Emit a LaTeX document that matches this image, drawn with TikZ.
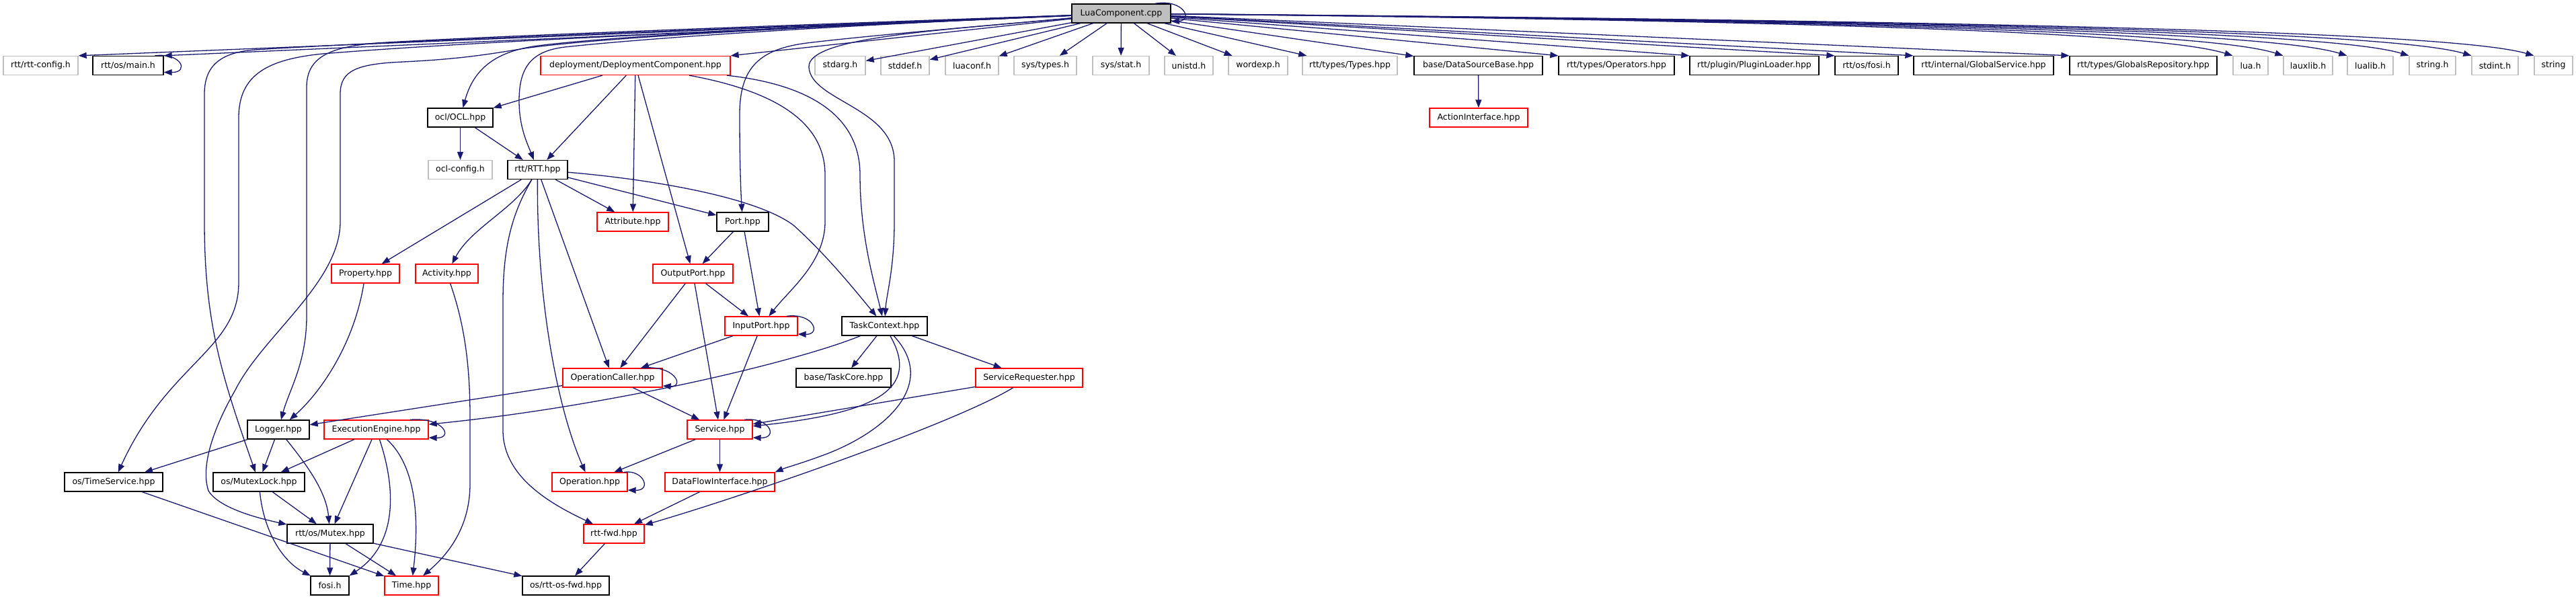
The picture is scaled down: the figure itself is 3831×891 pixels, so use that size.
\documentclass[tikz,border=0pt]{standalone}
\usepackage{fontspec}
\setmainfont{DejaVu Sans}
\usetikzlibrary{arrows.meta}
\definecolor{edgec}{HTML}{191970}
\definecolor{greybd}{HTML}{BFBFBF}
\definecolor{rootfill}{HTML}{BFBFBF}
\definecolor{redbd}{HTML}{FF0000}
\begin{document}
\begin{tikzpicture}[x=1pt,y=-1pt,
  nd/.style={draw, fill=white, line width=1.3pt, minimum height=28pt, inner sep=0pt,
    font=\fontsize{12.5}{14}\selectfont},
  gr/.style={nd, draw=greybd},
  bk/.style={nd, draw=black},
  rd/.style={nd, draw=redbd},
  root/.style={nd, draw=black, fill=rootfill},
  e/.style={draw=edgec, line width=1.3pt, -{Triangle[length=12pt,width=9pt]}}]
\useasboundingbox (0,0) rectangle (3831,891);
% row 0
\node[root,minimum width=147pt] (lua) at (1667.5,20) {LuaComponent.cpp};
% row 1
\node[gr,minimum width=111pt] (rttconfig) at (60.5,97.5) {rtt/rtt-config.h};
\node[bk,minimum width=105pt] (main) at (190.5,97.5) {rtt/os/main.h};
\node[rd,minimum width=282pt] (dc) at (945,97.5) {deployment/DeploymentComponent.hpp};
\node[gr,minimum width=75pt] (stdarg) at (1249.5,97.5) {stdarg.h};
\node[gr,minimum width=72pt] (stddef) at (1346,97.5) {stddef.h};
\node[gr,minimum width=79pt] (luaconf) at (1445.5,97.5) {luaconf.h};
\node[gr,minimum width=93pt] (systypes) at (1554.5,97.5) {sys/types.h};
\node[gr,minimum width=84pt] (sysstat) at (1667,97.5) {sys/stat.h};
\node[gr,minimum width=72pt] (unistd) at (1768,97.5) {unistd.h};
\node[gr,minimum width=88pt] (wordexp) at (1871,97.5) {wordexp.h};
\node[gr,minimum width=141pt] (types) at (2007.5,97.5) {rtt/types/Types.hpp};
\node[bk,minimum width=191pt] (dsb) at (2198.5,97.5) {base/DataSourceBase.hpp};
\node[bk,minimum width=172pt] (operators) at (2404,97.5) {rtt/types/Operators.hpp};
\node[bk,minimum width=192pt] (plugin) at (2609,97.5) {rtt/plugin/PluginLoader.hpp};
\node[bk,minimum width=94pt] (osfosi) at (2776,97.5) {rtt/os/fosi.h};
\node[bk,minimum width=208pt] (gservice) at (2950,97.5) {rtt/internal/GlobalService.hpp};
\node[bk,minimum width=219pt] (grepo) at (3187.5,97.5) {rtt/types/GlobalsRepository.hpp};
\node[gr,minimum width=52pt] (luah) at (3347,97.5) {lua.h};
\node[gr,minimum width=73pt] (lauxlib) at (3432.5,97.5) {lauxlib.h};
\node[gr,minimum width=68pt] (lualib) at (3525,97.5) {lualib.h};
\node[gr,minimum width=69pt] (stringh) at (3617.5,97.5) {string.h};
\node[gr,minimum width=69pt] (stdint) at (3710.5,97.5) {stdint.h};
\node[gr,minimum width=57pt] (string) at (3797.5,97.5) {string};
% row 2
\node[bk,minimum width=97pt] (ocl) at (684.5,175) {ocl/OCL.hpp};
\node[rd,minimum width=146pt] (action) at (2199,175) {ActionInterface.hpp};
% row 3
\node[gr,minimum width=95pt] (oclconfig) at (684.5,252.5) {ocl-config.h};
\node[bk,minimum width=89pt] (rtt) at (799.5,252.5) {rtt/RTT.hpp};
% row 4
\node[rd,minimum width=106pt] (attribute) at (941,330) {Attribute.hpp};
\node[bk,minimum width=77pt] (port) at (1104.5,330) {Port.hpp};
% row 5
\node[rd,minimum width=101pt] (property) at (543.5,407) {Property.hpp};
\node[rd,minimum width=93pt] (activity) at (664.5,407) {Activity.hpp};
\node[rd,minimum width=119pt] (outputport) at (1030.5,407) {OutputPort.hpp};
% row 6
\node[rd,minimum width=108pt] (inputport) at (1132,485) {InputPort.hpp};
\node[bk,minimum width=127pt] (taskcontext) at (1315.5,485) {TaskContext.hpp};
% row 7
\node[rd,minimum width=148pt] (opcaller) at (911,562) {OperationCaller.hpp};
\node[bk,minimum width=141pt] (taskcore) at (1254.5,562) {base/TaskCore.hpp};
\node[rd,minimum width=159pt] (servreq) at (1530.5,562) {ServiceRequester.hpp};
% row 8
\node[bk,minimum width=92pt] (logger) at (414,639) {Logger.hpp};
\node[rd,minimum width=155pt] (ee) at (559.5,639) {ExecutionEngine.hpp};
\node[rd,minimum width=97pt] (service) at (1070.5,639) {Service.hpp};
% row 9
\node[bk,minimum width=146pt] (timeservice) at (169,717) {os/TimeService.hpp};
\node[bk,minimum width=136pt] (mutexlock) at (385,717) {os/MutexLock.hpp};
\node[rd,minimum width=112pt] (operation) at (877,717) {Operation.hpp};
\node[rd,minimum width=163pt] (dfi) at (1070.5,717) {DataFlowInterface.hpp};
% row 10
\node[bk,minimum width=128pt] (mutex) at (491,794) {rtt/os/Mutex.hpp};
\node[rd,minimum width=90pt] (rttfwd) at (913,794) {rtt-fwd.hpp};
% row 11
\node[bk,minimum width=57pt] (fosi) at (490.5,871) {fosi.h};
\node[rd,minimum width=80pt] (time) at (612,871) {Time.hpp};
\node[bk,minimum width=129pt] (osfwd) at (841.5,871) {os/rtt-os-fwd.hpp};

% ---- edges from LuaComponent.cpp
\draw[e] ([xshift=50pt]lua.north) .. controls (1760,-2) and (1775,30) .. ([yshift=-12pt]lua.east);
\draw[e] (lua) -- (rttconfig.north east);
\draw[e] (lua) -- (main.north east);
\draw[e] (lua) -- (dc.north east);
\draw[e] (lua) -- (stdarg);
\draw[e] (lua) -- (stddef);
\draw[e] (lua) -- (luaconf);
\draw[e] (lua) -- (systypes);
\draw[e] (lua) -- (sysstat);
\draw[e] (lua) -- (unistd);
\draw[e] (lua) -- (wordexp);
\draw[e] (lua) -- (types);
\draw[e] (lua) -- (dsb);
\draw[e] (lua) -- (operators.north west);
\draw[e] (lua) -- (plugin.north west);
\draw[e] (lua) -- (osfosi.north west);
\draw[e] (lua) -- (gservice.north west);
\draw[e] (lua) -- (grepo.north west);
\draw[e] (lua) .. controls (2600,30) and (3200,45) .. (luah.north west);
\draw[e] (lua) .. controls (2650,30) and (3280,45) .. (lauxlib.north west);
\draw[e] (lua) .. controls (2700,30) and (3370,45) .. (lualib.north west);
\draw[e] (lua) .. controls (2750,30) and (3460,45) .. (stringh.north west);
\draw[e] (lua) .. controls (2800,30) and (3550,45) .. (stdint.north west);
\draw[e] (lua) .. controls (2850,30) and (3640,45) .. (string.north west);
% long curves down the left
\draw[e] (lua) .. controls (1100,42) and (600,60) .. (380,74) .. controls (325,78) and (304,100) .. (304,140) -- (304,330) .. controls (304,480) and (330,560) .. (mutexlock);
\draw[e] (lua) .. controls (1100,45) and (700,62) .. (480,80) .. controls (400,88) and (355,110) .. (355,175) -- (355,420) .. controls (355,520) and (250,540) .. (timeservice);
\draw[e] (lua) .. controls (1100,40) and (700,55) .. (560,64) .. controls (490,70) and (456,85) .. (456,130) -- (456,470) .. controls (456,540) and (430,580) .. (logger);
\draw[e] (lua) .. controls (1200,40) and (900,55) .. (780,72) .. controls (720,82) and (680,88) .. (600,92) .. controls (530,95) and (506,105) .. (506,140) -- (506,330) .. controls (506,420) and (390,500) .. (350,580) .. controls (310,650) and (300,700) .. (310,730) .. controls (325,755) and (380,770) .. (mutex);
\draw[e] (lua) .. controls (1200,38) and (900,55) .. (800,68) .. controls (740,76) and (705,100) .. (ocl);
\draw[e] (lua) .. controls (1200,40) and (950,58) .. (840,70) .. controls (790,76) and (772,100) .. (772,150) .. controls (772,190) and (785,215) .. (rtt);
\draw[e] (lua) .. controls (1450,40) and (1300,52) .. (1200,64) .. controls (1130,73) and (1100,100) .. (1100,170) .. controls (1100,250) and (1102,290) .. (port);
\draw[e] (lua) .. controls (1400,45) and (1200,55) .. (1203,100) .. controls (1206,150) and (1330,160) .. (1330,240) -- (1330,330) .. controls (1330,400) and (1318,440) .. (taskcontext);
% ---- main self loop
\draw[e] ([xshift=40pt]main.north) .. controls (270,78) and (282,108) .. ([yshift=-10pt]main.east);
% ---- DeploymentComponent
\draw[e] (dc) -- (ocl);
\draw[e] (dc) -- (rtt);
\draw[e] (dc) -- (attribute);
\draw[e] (dc) -- (outputport);
\draw[e] (dc) .. controls (1150,135) and (1227,180) .. (1227,260) -- (1227,330) .. controls (1227,390) and (1175,430) .. (inputport);
\draw[e] (dc) .. controls (1200,125) and (1279,170) .. (1279,260) .. controls (1279,350) and (1300,420) .. (taskcontext);
% ---- DataSourceBase, OCL
\draw[e] (dsb) -- (action);
\draw[e] (ocl) -- (oclconfig);
\draw[e] (ocl) -- (rtt);
% ---- RTT
\draw[e] (rtt) -- (property);
\draw[e] (rtt) .. controls (765,310) and (700,340) .. (activity);
\draw[e] (rtt) .. controls (760,320) and (748,370) .. (748,450) -- (748,640) .. controls (748,710) and (820,750) .. (rttfwd);
\draw[e] (rtt) .. controls (798,450) and (830,610) .. (operation);
\draw[e] (rtt) -- (opcaller);
\draw[e] (rtt) -- (attribute);
\draw[e] (rtt) -- (port);
\draw[e] (rtt) .. controls (950,265) and (1120,290) .. (1180,335) .. controls (1230,380) and (1270,430) .. (taskcontext);
% ---- ports
\draw[e] (port) -- (outputport);
\draw[e] (port) -- (inputport);
\draw[e] (outputport) -- (inputport);
\draw[e] (outputport) -- (opcaller);
\draw[e] (outputport) -- (service);
\draw[e] ([xshift=38pt]inputport.north) .. controls (1210,465) and (1222,498) .. ([yshift=-12pt]inputport.east);
\draw[e] (inputport) -- (opcaller);
\draw[e] (inputport) -- (service);
% ---- OperationCaller
\draw[e] ([xshift=42pt]opcaller.north) .. controls (1005,542) and (1018,576) .. ([yshift=-12pt]opcaller.east);
\draw[e] (opcaller) -- (logger);
\draw[e] (opcaller) -- (service);
% ---- Property, Activity
\draw[e] (property) .. controls (525,520) and (470,590) .. (logger);
\draw[e] (activity) .. controls (690,480) and (699,540) .. (699,620) -- (699,720) .. controls (699,790) and (660,830) .. (time);
% ---- TaskContext
\draw[e] (taskcontext) .. controls (1180,540) and (900,605) .. (ee);
\draw[e] (taskcontext) -- (taskcore);
\draw[e] (taskcontext) -- (servreq);
\draw[e] (taskcontext) .. controls (1370,580) and (1300,615) .. (service);
\draw[e] (taskcontext) .. controls (1395,570) and (1320,640) .. (1230,675) .. controls (1190,690) and (1170,695) .. (dfi.north east);
% ---- ServiceRequester
\draw[e] (servreq) -- (service);
\draw[e] (servreq) .. controls (1420,630) and (1100,740) .. (rttfwd);
% ---- Service
\draw[e] ([xshift=36.5pt]service.north) .. controls (1145,620) and (1158,652) .. ([yshift=-12pt]service.east);
\draw[e] (service) -- (operation);
\draw[e] (service) -- (dfi);
\draw[e] ([xshift=51pt]operation.north) .. controls (957,698) and (970,730) .. ([yshift=-12pt]operation.east);
\draw[e] (dfi) -- (rttfwd);
\draw[e] (rttfwd) -- (osfwd);
% ---- Logger
\draw[e] (logger) -- (timeservice);
\draw[e] (logger) -- (mutexlock);
\draw[e] (logger) .. controls (455,690) and (485,730) .. (mutex);
% ---- ExecutionEngine
\draw[e] ([xshift=50.5pt]ee.north) .. controls (660,620) and (675,652) .. ([yshift=-12pt]ee.east);
\draw[e] (ee) -- (mutexlock);
\draw[e] (ee) -- (mutex);
\draw[e] (ee) .. controls (590,730) and (590,810) .. (fosi.north east);
\draw[e] (ee) .. controls (615,690) and (625,760) .. (time);
% ---- lower OS part
\draw[e] (timeservice) -- (time);
\draw[e] (mutexlock) -- (mutex);
\draw[e] (mutexlock) .. controls (392,790) and (420,835) .. (fosi);
\draw[e] (mutex) -- (fosi);
\draw[e] (mutex) -- (time);
\draw[e] (mutex) -- (osfwd);
\end{tikzpicture}
\end{document}
